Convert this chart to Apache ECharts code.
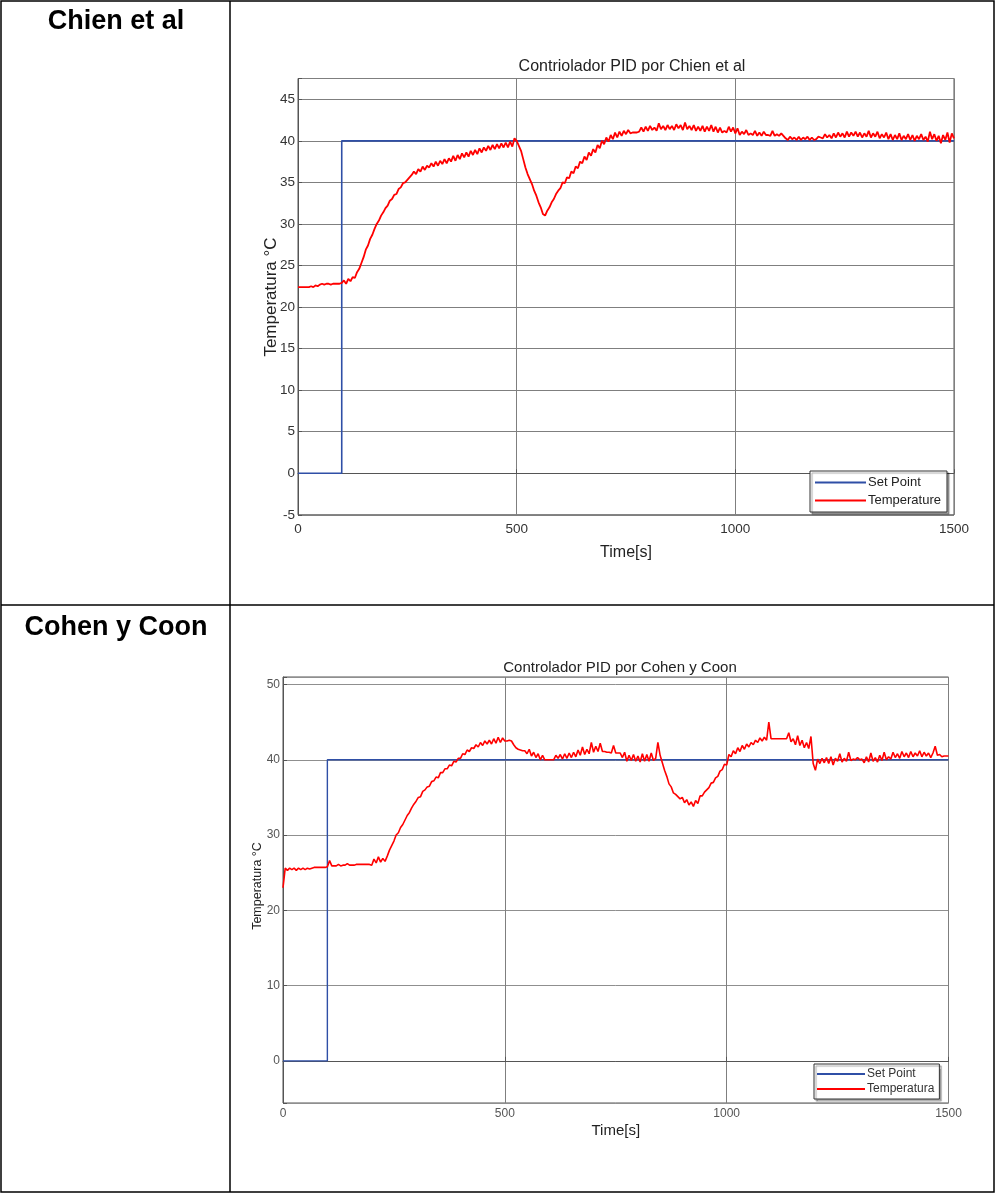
<!DOCTYPE html>
<html>
<head>
<meta charset="utf-8">
<script src="https://cdn.jsdelivr.net/npm/echarts@6/dist/echarts.min.js"></script>
<style>
html,body{margin:0;padding:0;background:#fff;}
#c{width:995px;height:1193px;}
</style>
</head>
<body>
<div id="c"></div>
<script>
// ---------- data ----------
const rowLabels = ['Chien et al', 'Cohen y Coon'];
const titles = ['Contriolador PID por Chien et al', 'Controlador PID por Cohen y Coon'];
const yName = 'Temperatura °C';
const xName = 'Time[s]';
const xTicks = [0, 500, 1000, 1500];
const yTicks1 = [-5, 0, 5, 10, 15, 20, 25, 30, 35, 40, 45];
const yTicks2 = [0, 10, 20, 30, 40, 50];
const legend1 = ['Set Point', 'Temperature'];
const legend2 = ['Set Point', 'Temperatura'];

// set point (time [s], value)
const spTime = [0, 100, 100, 1500];
const spValue = [0, 0, 40, 40];

// temperature sampled every 5 s from t = 0 to 1500
const sampleStep = 5;
const chienTemp = [
22.4,22.4,22.4,22.4,22.4,22.4,22.5,22.4,22.6,22.5,
22.7,22.8,22.7,22.8,22.8,22.7,22.8,22.8,22.8,22.8,
22.9,23.2,22.8,23.4,23.1,23.6,23.5,24.2,24.6,25.3,
26.0,26.9,27.4,28.2,28.7,29.4,30.0,30.4,31.0,31.4,
31.9,32.2,32.8,33.0,33.5,33.6,34.2,34.4,34.9,35.0,
35.3,35.6,35.9,36.3,36.0,36.6,36.3,36.9,36.5,37.0,
36.8,37.3,36.9,37.5,37.0,37.6,37.2,37.8,37.3,37.9,
37.5,38.2,37.6,38.3,37.8,38.5,38.0,38.6,38.1,38.8,
38.3,38.9,38.4,39.1,38.6,39.2,38.8,39.4,38.9,39.5,
39.0,39.6,39.1,39.7,39.2,39.8,39.2,39.9,39.3,40.3,
40.0,39.4,38.8,37.8,36.8,36.0,35.4,34.8,34.0,33.4,
32.6,32.0,31.2,31.0,31.6,32.0,32.6,33.0,33.6,34.0,
34.3,35.0,34.9,35.6,35.5,36.3,36.1,36.9,36.7,37.5,
37.3,38.1,37.7,38.6,38.2,39.0,38.6,39.5,39.1,40.0,
39.6,40.4,39.9,40.7,40.2,41.0,40.4,41.1,40.6,41.2,
40.8,41.3,40.9,41.0,41.0,41.0,41.1,41.6,41.1,41.7,
41.2,41.8,41.3,41.6,41.2,42.1,41.4,41.8,41.3,41.9,
41.4,41.8,41.3,42.0,41.5,41.9,41.3,42.2,41.4,41.8,
41.3,41.9,41.2,41.7,41.2,41.8,41.1,41.7,41.2,41.9,
41.1,41.7,41.0,41.6,41.0,41.2,41.0,41.7,41.1,41.6,
40.9,41.5,40.7,41.1,40.8,41.3,40.7,40.9,40.7,41.2,
40.6,41.0,40.6,41.1,40.7,40.7,40.6,41.2,40.6,40.8,
40.6,40.9,40.6,40.3,40.1,40.5,40.2,40.4,40.1,40.5,
40.1,40.4,40.2,40.5,40.1,40.4,40.1,40.2,40.5,40.4,
40.3,40.8,40.4,40.7,40.3,40.9,40.4,41.0,40.5,40.9,
40.4,41.1,40.5,41.0,40.6,41.1,40.5,41.0,40.4,40.9,
40.5,41.2,40.4,40.9,40.5,41.1,40.3,40.8,40.4,41.0,
40.2,40.8,40.1,40.7,40.2,40.9,40.1,40.6,40.2,40.8,
40.1,40.7,40.0,40.6,40.2,40.8,40.1,40.5,39.9,41.1,
40.2,40.8,40.0,40.6,39.7,40.7,40.1,41.0,39.8,40.9,
40.3
];
const cohenTemp = [
23.0,25.6,25.3,25.6,25.4,25.6,25.3,25.6,25.4,25.6,
25.4,25.6,25.5,25.6,25.7,25.7,25.7,25.7,25.7,25.7,
25.8,26.6,25.9,25.9,25.9,26.1,25.9,26.0,26.0,26.2,
26.0,26.0,26.0,26.1,26.1,26.1,26.1,26.1,26.1,26.1,
26.0,26.8,26.3,27.1,26.4,26.9,26.5,27.2,28.0,28.6,
29.2,30.0,30.3,31.0,31.4,32.0,32.6,33.0,33.6,34.1,
34.5,35.0,35.1,35.8,36.0,36.4,36.5,37.1,37.2,37.7,
37.6,38.3,38.3,38.8,38.8,39.3,39.2,39.8,39.7,40.2,
40.2,40.8,40.7,41.3,41.1,41.6,41.5,42.0,41.7,42.3,
41.9,42.5,42.1,42.6,42.1,42.8,42.2,43.0,42.3,42.9,
42.5,42.5,42.6,42.5,42.0,41.6,41.4,41.3,41.2,41.2,
40.8,41.4,40.5,41.0,40.3,40.8,40.0,40.6,40.0,40.0,
40.0,40.0,40.0,40.6,40.2,40.7,40.1,40.8,40.2,40.9,
40.3,41.0,40.4,41.3,40.6,41.7,40.7,41.4,40.8,42.3,
41.0,41.8,41.1,42.2,41.1,41.1,41.0,41.0,40.9,41.9,
40.9,40.9,40.9,40.3,41.0,39.8,40.6,39.9,40.7,39.8,
40.5,39.7,40.8,39.8,40.7,39.8,40.9,39.9,40.2,42.3,
40.6,39.6,38.6,37.8,36.8,36.4,35.6,35.4,35.1,34.8,
35.0,34.3,34.7,34.0,34.4,33.8,34.6,34.2,35.2,35.2,
35.7,36.0,36.3,36.9,37.0,37.6,37.8,38.5,38.7,39.4,
39.3,40.7,40.4,41.2,40.8,41.6,41.1,41.9,41.4,42.1,
41.7,42.3,42.0,42.6,42.3,42.9,42.5,43.0,42.6,45.0,
42.8,42.8,42.8,42.8,42.8,42.8,42.8,42.8,43.6,42.4,
42.8,42.0,43.2,41.9,42.6,41.6,42.3,41.5,43.1,39.5,
38.6,40.1,39.5,40.2,39.6,40.3,39.5,40.4,39.3,40.2,
39.8,40.8,39.7,40.2,39.8,41.0,39.9,40.1,40.0,40.3,
40.0,40.1,39.6,40.4,39.7,40.9,39.8,40.3,39.7,40.6,
39.9,41.0,40.0,40.4,40.1,41.0,40.3,40.8,40.2,41.1,
40.4,40.9,40.3,41.1,40.4,40.9,40.5,41.2,40.4,41.0,
40.5,40.9,40.3,40.9,41.8,40.6,40.7,40.4,40.5,40.5,
40.5
];

// ---------- build ----------
const toPairs = arr => arr.map((v, i) => [i * sampleStep, v]);
const spData = spTime.map((t, i) => [t, spValue[i]]);
const FONT = 'Liberation Sans, Arial, Helvetica, sans-serif';
const BLUE = '#2f4fa6';
const RED = '#ff0000';

function xAxisCfg(gridIndex, fs, nameFs, margin, gap, labelColor) {
  return {
    gridIndex, type: 'value', min: xTicks[0], max: xTicks[xTicks.length - 1],
    interval: xTicks[1] - xTicks[0],
    name: xName, nameLocation: 'middle', nameGap: gap,
    nameTextStyle: { fontFamily: FONT, fontSize: nameFs, color: '#222' },
    axisLine: { show: true, lineStyle: { color: '#555', width: 1 } },
    axisTick: { show: true, inside: true, length: 4, lineStyle: { color: '#555' } },
    axisLabel: { fontFamily: FONT, fontSize: fs, color: labelColor, margin,
      formatter: v => (xTicks.indexOf(v) >= 0 ? String(v) : '') },
    splitLine: { show: true, lineStyle: { color: '#7f7f7f', width: 1 } }
  };
}

function vText(text, x, y, fs) {
  return { type: 'text', silent: true, x, y, rotation: Math.PI / 2,
    style: { text, font: fs + 'px ' + FONT, fill: '#222',
      align: 'center', verticalAlign: 'middle', textAlign: 'center', textVerticalAlign: 'middle' } };
}

const option = {
  backgroundColor: '#fff',
  animation: false,
  graphic: [
    { type: 'rect', silent: true, shape: { x: 1, y: 1, width: 993, height: 1191 },
      style: { fill: 'none', stroke: '#000', lineWidth: 1.5 } },
    { type: 'line', silent: true, shape: { x1: 230, y1: 1, x2: 230, y2: 1192 },
      style: { stroke: '#000', lineWidth: 1.5 } },
    { type: 'line', silent: true, shape: { x1: 1, y1: 605, x2: 994, y2: 605 },
      style: { stroke: '#000', lineWidth: 1.5 } },
    { type: 'text', silent: true, x: 116, y: 22,
      style: { text: rowLabels[0], font: 'bold 27px ' + FONT, fill: '#000',
        align: 'center', verticalAlign: 'middle', textAlign: 'center', textVerticalAlign: 'middle' } },
    { type: 'text', silent: true, x: 116, y: 628,
      style: { text: rowLabels[1], font: 'bold 27px ' + FONT, fill: '#000',
        align: 'center', verticalAlign: 'middle', textAlign: 'center', textVerticalAlign: 'middle' } },
    vText(yName, 271, 297, 17),
    vText(yName, 258, 886, 12.5)
  ],
  title: [
    { text: titles[0], left: 627, top: 54, textAlign: 'center',
      textStyle: { fontFamily: FONT, fontSize: 16, fontWeight: 'normal', color: '#222' } },
    { text: titles[1], left: 615, top: 655, textAlign: 'center',
      textStyle: { fontFamily: FONT, fontSize: 15, fontWeight: 'normal', color: '#222' } }
  ],
  legend: [
    { data: legend1, orient: 'vertical', left: 810, top: 471, itemWidth: 51, itemHeight: 2,
      icon: 'rect', itemGap: 5, padding: [5, 6, 5, 5], borderColor: '#333', borderWidth: 1,
      backgroundColor: '#fff', shadowColor: 'rgba(0,0,0,0.35)', shadowOffsetX: 2, shadowOffsetY: 2, shadowBlur: 1,
      textStyle: { fontFamily: FONT, fontSize: 13, color: '#222', padding: [0, 0, 0, -3] } },
    { data: legend2, orient: 'vertical', left: 814, top: 1064, itemWidth: 48, itemHeight: 2,
      icon: 'rect', itemGap: 3, padding: [4, 5, 4, 3], borderColor: '#333', borderWidth: 1,
      backgroundColor: '#fff', shadowColor: 'rgba(0,0,0,0.35)', shadowOffsetX: 2, shadowOffsetY: 2, shadowBlur: 1,
      textStyle: { fontFamily: FONT, fontSize: 12, color: '#333', padding: [0, 0, 0, -3] } }
  ],
  grid: [
    { left: 298, right: 41, top: 78.5, bottom: 1193 - 514.8, show: true, borderColor: '#555', borderWidth: 1, backgroundColor: '#fff' },
    { left: 283, right: 46.5, top: 677, bottom: 1193 - 1103, show: true, borderColor: '#555', borderWidth: 1, backgroundColor: '#fff' }
  ],
  xAxis: [
    xAxisCfg(0, 13.5, 16, 7, 30, '#333'),
    xAxisCfg(1, 12, 15, 5, 20, '#555')
  ],
  yAxis: [
    { gridIndex: 0, type: 'value', min: yTicks1[0], max: 47.5, interval: yTicks1[1] - yTicks1[0],
      axisLine: { show: true, lineStyle: { color: '#555', width: 1 } },
      axisTick: { show: true, inside: true, length: 4, lineStyle: { color: '#555' } },
      axisLabel: { fontFamily: FONT, fontSize: 13.5, color: '#333', margin: 3,
        formatter: v => (yTicks1.indexOf(v) >= 0 ? String(v) : '') },
      splitLine: { show: true, lineStyle: { color: '#7f7f7f', width: 1 } } },
    { gridIndex: 1, type: 'value', min: -5.6, max: 51, minInterval: 10, maxInterval: 10, splitNumber: 5,
      axisLine: { show: true, lineStyle: { color: '#555', width: 1 } },
      axisTick: { show: true, inside: true, length: 4, lineStyle: { color: '#555' } },
      axisLabel: { fontFamily: FONT, fontSize: 12, color: '#555', margin: 3,
        formatter: v => (yTicks2.indexOf(v) >= 0 ? String(v) : '') },
      splitLine: { show: true, lineStyle: { color: '#8f8f8f', width: 1 } } }
  ],
  series: [
    { name: legend1[0], type: 'line', xAxisIndex: 0, yAxisIndex: 0, data: spData,
      showSymbol: false, symbol: 'none', lineStyle: { color: BLUE, width: 1.6 }, itemStyle: { color: BLUE }, z: 3 },
    { name: legend1[1], type: 'line', xAxisIndex: 0, yAxisIndex: 0, data: toPairs(chienTemp),
      showSymbol: false, symbol: 'none', lineStyle: { color: RED, width: 1.8 }, itemStyle: { color: RED }, z: 4 },
    { name: legend2[0], type: 'line', xAxisIndex: 1, yAxisIndex: 1, data: spData,
      showSymbol: false, symbol: 'none', lineStyle: { color: BLUE, width: 1.4 }, itemStyle: { color: BLUE }, z: 3 },
    { name: legend2[1], type: 'line', xAxisIndex: 1, yAxisIndex: 1, data: toPairs(cohenTemp),
      showSymbol: false, symbol: 'none', lineStyle: { color: RED, width: 1.6 }, itemStyle: { color: RED }, z: 4 }
  ]
};

const chart = echarts.init(document.getElementById('c'), null, { renderer: 'canvas' });
chart.setOption(option);
</script>
</body>
</html>
